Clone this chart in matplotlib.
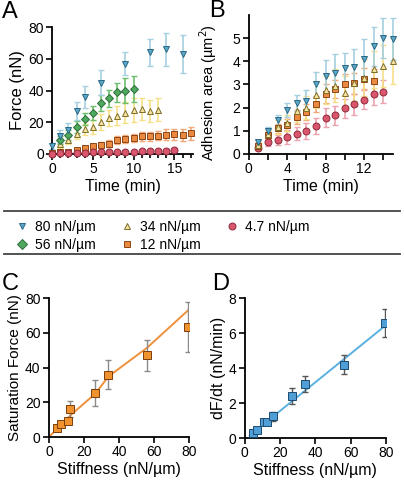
import matplotlib
matplotlib.use("Agg")
import matplotlib.pyplot as plt
from matplotlib.lines import Line2D
import numpy as np

plt.rcParams['font.family'] = ['Liberation Sans', 'DejaVu Sans']

# ---- panel A: force vs time ----
tA_80 = [0, 1, 2, 3, 4, 6, 9, 12, 14, 16]
fA_80 = [5, 11, 15, 27, 36, 45, 57, 64, 66, 63]
eA_80 = [2, 4, 4.5, 5.5, 7, 8, 7, 8.5, 10.5, 12]

tA_56 = [1, 2, 3, 4, 5, 6, 7, 8, 9, 10]
fA_56 = [9, 12, 17, 22, 26, 32, 35, 39, 40, 41]
eA_56 = [2.5, 3, 3.5, 4, 4.5, 5, 5.5, 6, 8, 8]

tA_34 = [1, 2, 3, 4, 5, 6, 7, 8, 9, 10, 11, 12, 13]
fA_34 = [6, 8.5, 12.5, 15.5, 17, 20, 22.5, 24, 26, 27.5, 28.5, 27, 28]
eA_34 = [2, 2.5, 3, 3.5, 4.5, 5, 5, 6, 6.5, 7.5, 7, 7, 7]

tA_12 = list(range(0, 18))
fA_12 = [0.5, 1, 1.5, 2.5, 3.5, 5, 5.5, 6.5, 8.5, 9.5, 10, 11, 11, 11.5, 12, 12.5, 12, 13]
eA_12 = [0.5, 0.8, 1, 1, 1.5, 1.5, 2, 2, 2.5, 2.5, 2.5, 3, 3, 3, 3.5, 3.5, 4, 4]

tA_47 = list(range(0, 16))
fA_47 = [0, 0.3, 0.5, 0.7, 0.8, 1, 1, 1.2, 1.3, 1.5, 1.5, 1.8, 1.8, 1.9, 2, 2.2]
eA_47 = [0.2, 0.3, 0.3, 0.4, 0.4, 0.5, 0.5, 0.5, 0.6, 0.6, 0.6, 0.7, 0.7, 0.7, 0.8, 0.8]

# ---- panel B: adhesion area vs time ----
tB_80 = list(range(1, 16))
aB_80 = [0.5, 1.0, 1.45, 1.9, 2.2, 2.3, 3.0, 3.35, 3.5, 3.7, 3.75, 4.1, 4.65, 5.0, 4.95]
eB_80 = [0.1, 0.15, 0.25, 0.3, 0.35, 0.45, 0.55, 0.7, 0.8, 0.65, 0.8, 0.85, 0.85, 0.85, 0.9]

tB_34 = list(range(1, 16))
aB_34 = [0.4, 0.85, 1.15, 1.35, 1.85, 2.0, 2.55, 2.75, 2.95, 2.65, 3.05, 3.3, 3.65, 3.8, 4.0]
eB_34 = [0.1, 0.2, 0.3, 0.35, 0.45, 0.5, 0.55, 0.6, 0.7, 0.7, 0.75, 0.8, 0.8, 0.9, 1.0]

tB_12 = list(range(1, 14))
aB_12 = [0.35, 0.8, 1.1, 1.25, 1.6, 1.8, 2.15, 2.6, 2.8, 3.0, 3.05, 3.25, 3.15]
eB_12 = [0.1, 0.15, 0.2, 0.25, 0.3, 0.35, 0.35, 0.4, 0.4, 0.45, 0.45, 0.45, 0.5]

tB_47 = list(range(1, 15))
aB_47 = [0.25, 0.5, 0.6, 0.72, 0.88, 1.0, 1.22, 1.57, 1.67, 1.97, 2.15, 2.35, 2.57, 2.68]
eB_47 = [0.1, 0.15, 0.2, 0.3, 0.3, 0.35, 0.35, 0.4, 0.4, 0.4, 0.45, 0.4, 0.45, 0.5]

# ---- panel C: saturation force vs stiffness ----
kC = [4.7, 6.8, 10.8, 12.3, 26.5, 34, 56, 79.5]
fC = [5, 7.5, 9, 16, 25.5, 36, 47, 63.5]
eC = [1, 1, 1.5, 4.5, 7.5, 8.5, 9, 14.5]
fitC_x = [0, 12.5, 26.5, 34, 56, 80]
fitC_y = [0, 12.7, 25, 34.9, 51.4, 73.5]

# ---- panel D: dF/dt vs stiffness ----
kD = [4.7, 6.8, 10.8, 12.8, 16, 26.5, 34, 56, 79.5]
rD = [0.3, 0.45, 0.9, 0.9, 1.25, 2.4, 3.1, 4.2, 6.6]
eD = [0.05, 0.05, 0.1, 0.1, 0.25, 0.45, 0.45, 0.55, 0.8]
fitD_x = [2.8, 80]
fitD_y = [0.15, 6.45]

# style per stiffness: (marker, face, edge, errorbar colour)
styles = {
    '80': ('v', '#5ba8c9', '#2a6784', '#a5d0e0'),
    '56': ('D', '#4ea85e', '#2f6e3a', '#6cbf6c'),
    '34': ('^', '#f5e3a0', '#7d6c2a', '#f6df86'),
    '12': ('s', '#ea8a40', '#8c4514', '#f2a878'),
    '4.7': ('o', '#d9566d', '#8e2a3d', '#eba3b0'),
}


def series(ax, key, x, y, e, ms=5):
    m, fc, ec, erc = styles[key]
    ax.errorbar(x, y, yerr=e, fmt='none', ecolor=erc, elinewidth=1.2,
                capsize=2, capthick=1, clip_on=False, zorder=2)
    ax.plot(x, y, m, mfc=fc, mec=ec, mew=0.7, ms=ms, ls='none',
            clip_on=False, zorder=3)


def style_ax(ax):
    for s in ['top', 'right']:
        ax.spines[s].set_visible(False)
    for s in ['left', 'bottom']:
        ax.spines[s].set_linewidth(1.3)
    ax.tick_params(direction='out', length=4, width=1.2, labelsize=10, pad=2)


fig = plt.figure(figsize=(4.04, 4.84), dpi=100)

# A
axA = fig.add_axes([0.129, 0.682, 0.349, 0.262])
series(axA, '12', tA_12, fA_12, eA_12)
series(axA, '4.7', tA_47, fA_47, eA_47)
series(axA, '34', tA_34, fA_34, eA_34)
series(axA, '56', tA_56, fA_56, eA_56, ms=4)
series(axA, '80', tA_80, fA_80, eA_80)
axA.set_xlim(0, 17.3)
axA.set_ylim(0, 80)
axA.set_xticks([0, 5, 10, 15])
axA.set_xticks(range(0, 18), minor=True)
axA.set_yticks([0, 20, 40, 60, 80])
style_ax(axA)
axA.tick_params(which='minor', direction='out', length=3, width=1.2)
axA.set_xlabel('Time (min)', fontsize=11.5, labelpad=2)
axA.set_ylabel('Force (nN)', fontsize=12, labelpad=2)

# B
axB = fig.add_axes([0.616, 0.682, 0.356, 0.287])
series(axB, '4.7', tB_47, aB_47, eB_47)
series(axB, '12', tB_12, aB_12, eB_12)
series(axB, '34', tB_34, aB_34, eB_34)
series(axB, '80', tB_80, aB_80, eB_80)
axB.set_xlim(0, 15)
axB.set_ylim(0, 6)
axB.set_xticks([0, 4, 8, 12])
axB.set_xticks(range(0, 16, 2), minor=True)
axB.set_yticks([0, 1, 2, 3, 4, 5])
style_ax(axB)
axB.tick_params(which='minor', direction='out', length=4, width=1.2)
axB.set_xlabel('Time (min)', fontsize=11.5, labelpad=2)
axB.set_ylabel('Adhesion area (µm$^2$)', fontsize=10.5)
axB.yaxis.set_label_coords(-0.21, 0.44)

# legend box
handles = []
labels = []
for key in ['80', '56', '34', '12', '4.7']:
    m, fc, ec, erc = styles[key]
    handles.append(Line2D([], [], marker=m, mfc=fc, mec=ec, mew=0.7, ms=5, ls='none'))
    labels.append(f'{key} nN/µm')
fig.legend(handles, labels, ncol=3, loc='upper left', bbox_to_anchor=(0.003, 0.572),
           frameon=False, fontsize=10, handletextpad=0.3, columnspacing=1.7,
           labelspacing=0.3, handlelength=1.2)
fig.add_artist(Line2D([0.01, 0.99], [0.564, 0.564], color='#444444', lw=1.3))
fig.add_artist(Line2D([0.01, 0.99], [0.475, 0.475], color='#444444', lw=1.3))

# C
axC = fig.add_axes([0.121, 0.097, 0.347, 0.287])
axC.plot(fitC_x, fitC_y, color='#f0903a', lw=1.4, zorder=1)
axC.errorbar(kC, fC, yerr=eC, fmt='none', ecolor='#8a8a8a', elinewidth=1,
             capsize=2.5, capthick=1, zorder=2)
axC.plot(kC, fC, 's', mfc='#f0922e', mec='#7a3e0c', mew=0.7, ms=5.5, ls='none', zorder=3)
axC.set_xlim(0, 80)
axC.set_ylim(0, 80)
axC.set_xticks([0, 20, 40, 60, 80])
axC.set_yticks([0, 20, 40, 60, 80])
style_ax(axC)
axC.set_xlabel('Stiffness (nN/µm)', fontsize=11.5, labelpad=2)
axC.set_ylabel('Saturation Force (nN)', fontsize=11, labelpad=2)

# D
axD = fig.add_axes([0.606, 0.095, 0.349, 0.289])
axD.plot(fitD_x, fitD_y, color='#5ab0e0', lw=1.4, zorder=1)
axD.errorbar(kD, rD, yerr=eD, fmt='none', ecolor='#555555', elinewidth=1,
             capsize=2.5, capthick=1, zorder=2)
axD.plot(kD, rD, 's', mfc='#4f9fd6', mec='#1d4a70', mew=0.7, ms=5.5, ls='none', zorder=3)
axD.set_xlim(0, 80)
axD.set_ylim(0, 8)
axD.set_xticks([0, 20, 40, 60, 80])
axD.set_yticks([0, 2, 4, 6, 8])
style_ax(axD)
axD.set_xlabel('Stiffness (nN/µm)', fontsize=11.5, labelpad=2)
axD.set_ylabel('dF/dt (nN/min)', fontsize=11.5, labelpad=2)

# panel letters
fig.text(0.005, 0.997, 'A', fontsize=17, va='top', ha='left')
fig.text(0.518, 1.0, 'B', fontsize=17, va='top', ha='left')
fig.text(0.005, 0.435, 'C', fontsize=17, va='top', ha='left')
fig.text(0.525, 0.435, 'D', fontsize=17, va='top', ha='left')

fig.savefig('out.png', dpi=100)
